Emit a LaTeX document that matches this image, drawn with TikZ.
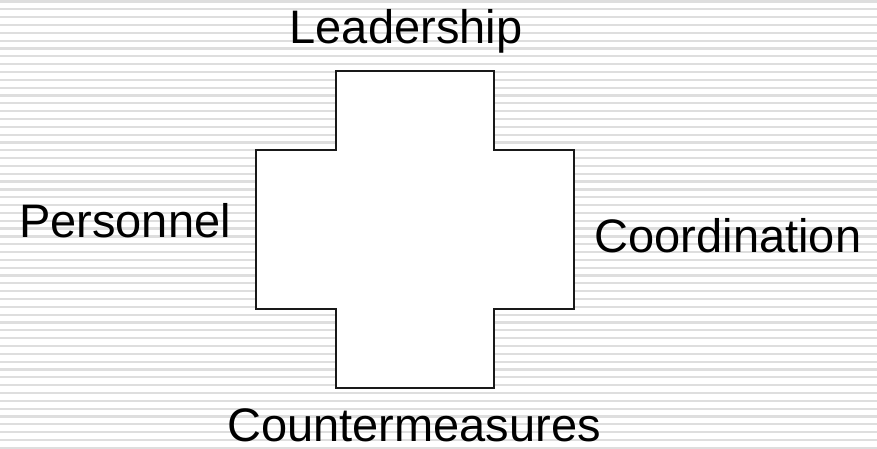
\documentclass[tikz,border=0pt]{standalone}
\usepackage{fontspec}
\setmainfont{Liberation Sans}
\begin{document}
\begin{tikzpicture}[x=1pt, y=-1pt,
    caption/.style={anchor=base, inner sep=0pt, font=\fontsize{47}{51}\selectfont},
    stripe/.style={black!13, line width=2.2pt},
    crossline/.style={line width=2.2pt, black!90, fill=white}]
  \useasboundingbox (0,0) rectangle (877,449);
  % striped background
  \foreach \k in {0,...,57}
    \draw[stripe] (0,1.5+7.83*\k) -- (877,1.5+7.83*\k);
  % the cross
  \draw[crossline] (336,71) -- (494,71) -- (494,150) -- (574,150)
    -- (574,309) -- (494,309) -- (494,388) -- (336,388) -- (336,309)
    -- (256,309) -- (256,150) -- (336,150) -- cycle;
  % arm labels
  \node[caption] (lead) at (406,44) {Leadership};
  \node[caption] (pers) at (125,237) {Personnel};
  \node[caption] (coord) at (728,252) {Coordination};
  \node[caption] (counter) at (414,441) {Countermeasures};
\end{tikzpicture}
\end{document}
